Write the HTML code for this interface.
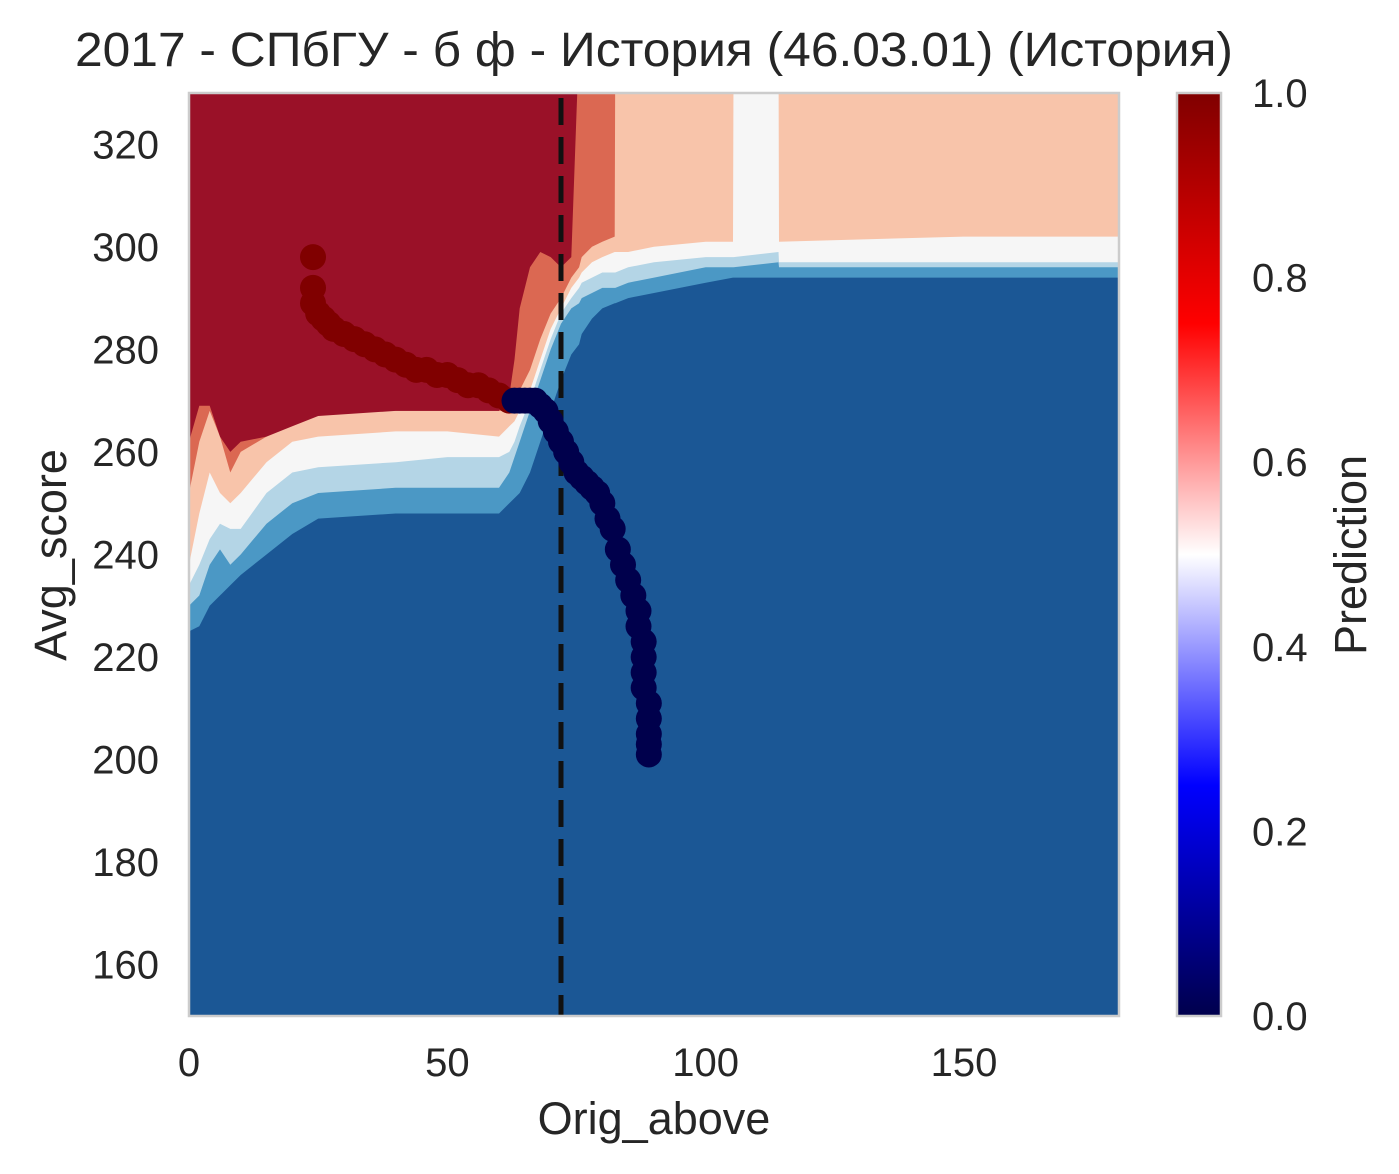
<!DOCTYPE html>
<html><head><meta charset="utf-8"><style>
html,body{margin:0;padding:0;background:#fff;}
svg{display:block;font-family:"Liberation Sans","DejaVu Sans",sans-serif;}
</style></head><body>
<svg id="chart" width="1399" height="1174" viewBox="0 0 1399 1174" xmlns="http://www.w3.org/2000/svg">
<defs>
<linearGradient id="seis" x1="0" y1="1" x2="0" y2="0">
<stop offset="0" stop-color="#00004c"/><stop offset="0.25" stop-color="#0000ff"/><stop offset="0.5" stop-color="#ffffff"/><stop offset="0.75" stop-color="#ff0000"/><stop offset="1" stop-color="#800000"/>
</linearGradient>
<clipPath id="plotclip"><rect x="189" y="93" width="930" height="923"/></clipPath>
</defs>
<text x="654" y="66" font-size="48" text-anchor="middle" fill="#262626" textLength="1158" lengthAdjust="spacingAndGlyphs">2017 - СПбГУ - б ф - История (46.03.01) (История)</text>
<g id="plot" clip-path="url(#plotclip)"></g>
<rect x="189" y="93" width="930" height="923" fill="none" stroke="#cccccc" stroke-width="2.5"/>
<g id="axes"></g>
<text x="654" y="1134" font-size="45" text-anchor="middle" fill="#262626">Orig_above</text>
<text transform="translate(66,555) rotate(-90)" font-size="45" text-anchor="middle" fill="#262626">Avg_score</text>
<rect x="1177" y="93" width="44" height="923" fill="url(#seis)" stroke="#cccccc" stroke-width="2.5"/>
<g id="cbticks"></g>
<text transform="translate(1366,555) rotate(-90)" font-size="45" text-anchor="middle" fill="#262626">Prediction</text>
</svg>
<script>
const xTicks=[0,50,100,150];
const yTicks=[160,180,200,220,240,260,280,300,320];
const cbTicks=[0.0,0.2,0.4,0.6,0.8,1.0];
const gridX=[0,2,4,6,8,10,15,20,25,40,50,60,62,63,64,66,68,70,72,74,75.5,76,78,80,82.4,82.5,85,90,100,105.3,105.4,114.1,114.2,150,180];
const bMid =[225,226,230,232,234,236,240,244,247,248,248,248,250,251,252,256,262,268,274,279,281,283,286,288,289,289,290,291,293,294,294,294,294,294,294];
const bLight=[230,232,238,241,238,240,246,250,252,253,253,253,256,259,262,268,274,280,285,288,289,290,291,292,292,292,293,294,296,296,296,297,296,296,296];
const bWhite=[234,238,243,246,245,245,252,256,257,258,259,259,260,262,265,270,276,282,287,290,292,293,294,295,295,295,296,297,298,298,298,299,297,297,297];
const bPink=[238,248,256,252,250,252,258,262,263,264,264,263,265,266,268,272,278,284,288,292,294,295,297,298,299,299,299,300,301,301,340,340,301,302,302];
const bRed=[252,262,268,263,256,260,263,267,268,268,268,268,268,270,272,276,282,287,290,294,296,298,300,301,302,340,340,340,340,340,340,340,340,340,340];
const bDark=[262,269,269,263,260,262,263,265,267,268,268,268,271,278,288,296,299,298,296,298,340,340,340,340,340,340,340,340,340,340,340,340,340,340,340];
const redX=[24,24,24,25,26,27,28,30,32,34,36,38,40,42,44,46,48,50,52,54,56,58,60,62];
const redY=[298,292,289,287,286,285,284,283,282,281,280,279,278,277,276,276,275,275,274,273,273,272,271,270];
const blueX=[63,64,65,66,67,68,69,70,71,72,73,74,75,76,77,78,79,80,81,82,83,84,85,86,87,87,88,88,88,88,89,89,89,89,89];
const blueY=[270,270,270,270,270,269,268,266,264,262,260,258,256,255,254,253,252,250,247,245,241,238,235,232,229,226,223,220,217,214,211,208,205,203,201];
const cutoff=72;
const NS="http://www.w3.org/2000/svg";
const sx=v=>189+v*930/180;
const sy=v=>1016-(v-150)*923/180;
const plot=document.getElementById('plot');
function mk(tag,attrs,parent){const e=document.createElementNS(NS,tag);for(const k in attrs)e.setAttribute(k,attrs[k]);parent.appendChild(e);return e;}
let bg=mk('rect',{x:189,y:93,width:930,height:923,fill:'#1b5795'},plot);


const bands=[[bMid,'#4b98c5','contour-band-0.1'],[bLight,'#b4d5e6','contour-band-0.3'],[bWhite,'#f6f6f6','contour-band-0.5'],[bPink,'#f8c4aa','contour-band-0.6'],[bRed,'#db6852','contour-band-0.8'],[bDark,'#9a1128','contour-band-0.9']];
bands.forEach(([b,c,n])=>{
 let d='M'+sx(gridX[0])+','+sy(335);
 for(let i=0;i<gridX.length;i++)d+=' L'+sx(gridX[i]).toFixed(1)+','+sy(b[i]).toFixed(1);
 d+=' L'+sx(gridX[gridX.length-1])+','+sy(335)+' Z';
 const p=mk('path',{d:d,fill:c},plot);
 
 
});
const dl=mk('line',{x1:sx(cutoff),x2:sx(cutoff),y1:98,y2:1016,stroke:'#111',"stroke-width":5,"stroke-dasharray":"27,12"},plot);


redX.forEach((x,i)=>{const c=mk('circle',{cx:sx(x),cy:sy(redY[i]),r:13,fill:'#800000'},plot);
 
 });
blueX.forEach((x,i)=>{const c=mk('circle',{cx:sx(x),cy:sy(blueY[i]),r:13,fill:'#00004c'},plot);
 
 });
const axes=document.getElementById('axes');
xTicks.forEach(t=>{const e=mk('text',{x:sx(t),y:1076,"font-size":40,"text-anchor":"middle",fill:'#262626'},axes);e.textContent=t;
 
 });
yTicks.forEach(t=>{const e=mk('text',{x:159,y:sy(t)+14,"font-size":40,"text-anchor":"end",fill:'#262626'},axes);e.textContent=t;
 
 });
const cb=document.getElementById('cbticks');
cbTicks.forEach(t=>{const e=mk('text',{x:1252,y:1016-t*923+14,"font-size":40,fill:'#262626'},cb);e.textContent=t.toFixed(1);
 
 });
</script>
</body></html>
